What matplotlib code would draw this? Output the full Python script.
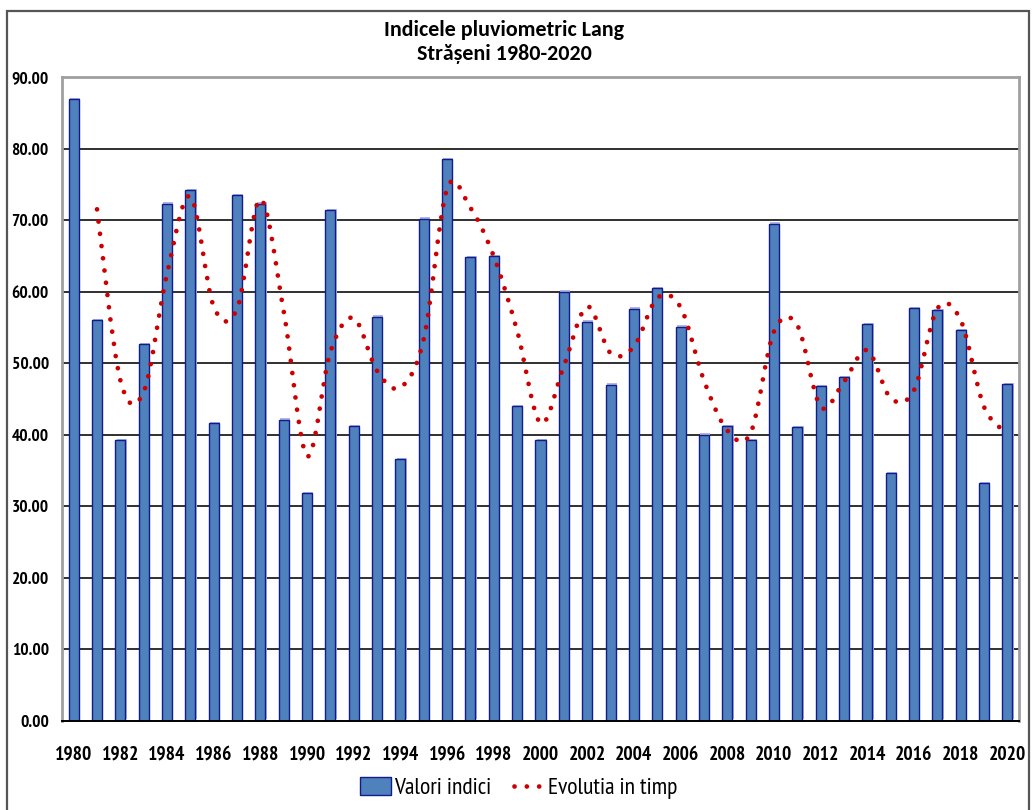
import matplotlib
matplotlib.use("Agg")
import matplotlib.pyplot as plt
import matplotlib.patheffects as pe
from matplotlib.path import Path
from matplotlib.patches import PathPatch, Rectangle, Patch
from matplotlib.lines import Line2D
import numpy as np

# Lang rainfall index, Strășeni station
years = list(range(1980, 2021))
lang_index = [86.9, 56.0, 39.2, 52.7, 72.3, 74.2, 41.6, 73.5, 72.3, 42.1,
              31.8, 71.4, 41.2, 56.5, 36.6, 70.2, 78.5, 64.8, 65.0, 44.0,
              39.2, 60.0, 55.8, 47.0, 57.6, 60.5, 55.1, 40.0, 41.2, 39.2,
              69.5, 41.0, 46.8, 48.0, 55.5, 34.6, 57.7, 57.4, 54.6, 33.2,
              47.1]
# two-year moving trend (starts in 1981)
trend = [None, 71.5, 47.6, 46.0, 62.5, 73.3, 57.9, 57.6, 72.9, 57.2,
         37.0, 51.6, 56.3, 48.9, 46.6, 53.4, 74.4, 71.7, 64.9, 54.5,
         41.6, 49.6, 57.9, 51.4, 52.3, 59.1, 57.8, 47.6, 40.6, 40.2,
         54.4, 55.3, 43.9, 47.4, 51.8, 45.1, 46.2, 57.6, 56.0, 43.9,
         40.2]
y_ticks = [0, 10, 20, 30, 40, 50, 60, 70, 80, 90]

title = "Indicele pluviometric Lang\nStrășeni 1980-2020"
bar_label = "Valori indici"
trend_label = "Evolutia in timp"

NARROW = ["PT Sans Narrow", "DejaVu Sans"]
TITLE_FONT = ["Carlito", "DejaVu Sans"]
BAR_FACE = "#4F81BD"
BAR_EDGE = "#101C8C"
TREND_COLOR = "#CC0000"

W, H = 1032, 810
fig = plt.figure(figsize=(W / 100, H / 100), dpi=100)
ax = fig.add_axes([62 / W, 1 - 720.7 / H, (1019 - 62) / W, (720.7 - 77) / H])

x = np.arange(len(years))
bars = ax.bar(x, lang_index, width=0.43, color=BAR_FACE, edgecolor=BAR_EDGE,
              linewidth=1.0, zorder=3)
for b in bars:
    b.set_path_effects([pe.SimplePatchShadow(offset=(0.9, 0.9),
                                             shadow_rgbFace="#b4b4e6",
                                             alpha=1.0),
                        pe.Normal()])

# smoothed trend curve (Catmull-Rom segments as cubic Bezier)
pts = [(xi, v) for xi, v in zip(x, trend) if v is not None]
P = np.array(pts, dtype=float)
verts = [tuple(P[0])]
codes = [Path.MOVETO]
n = len(P)
for i in range(n - 1):
    p0 = P[i - 1] if i > 0 else P[i]
    p1 = P[i]
    p2 = P[i + 1]
    p3 = P[i + 2] if i + 2 < n else P[i + 1]
    c1 = p1 + (p2 - p0) / 6.0
    c2 = p2 - (p3 - p1) / 6.0
    verts += [tuple(c1), tuple(c2), tuple(p2)]
    codes += [Path.CURVE4] * 3
DOTS = (0, (0.01, 2.6))
LW = 3.4
curve = PathPatch(Path(verts, codes), fill=False, edgecolor=TREND_COLOR,
                  linewidth=LW, linestyle=DOTS, capstyle="round", zorder=4)
ax.add_patch(curve)

ax.set_xlim(-0.5, len(years) - 0.5)
ax.set_ylim(0, 90)
ax.set_yticks(y_ticks)
ax.set_yticklabels([f"{t:.2f}" for t in y_ticks], fontfamily=NARROW,
                   fontweight="bold", fontsize=12.5)
ax.set_xticks(x[::2])
ax.set_xticklabels([str(y) for y in years[::2]], fontfamily=NARROW,
                   fontweight="bold", fontsize=14)
ax.tick_params(axis="y", length=0, pad=9.5)
ax.tick_params(axis="x", length=0, pad=18)

for t in y_ticks[1:-1]:
    ax.axhline(t, color="#303030", linewidth=1.4, zorder=1)

for side in ("top", "left", "right"):
    ax.spines[side].set_color("#a0a0a0")
    ax.spines[side].set_linewidth(2.0)
ax.spines["bottom"].set_color("#000000")
ax.spines["bottom"].set_linewidth(1.4)
ax.spines["bottom"].set_zorder(5)

fig.text(504 / W, 1 - 42 / H, title, ha="center", va="center",
         fontfamily=TITLE_FONT, fontweight="bold", fontsize=15.8,
         linespacing=1.3)

handles = [Patch(facecolor=BAR_FACE, edgecolor=BAR_EDGE, linewidth=1.0),
           Line2D([], [], color=TREND_COLOR, linewidth=LW, linestyle=DOTS,
                  dash_capstyle="round")]
fig.legend(handles, [bar_label, trend_label], loc="center",
           bbox_to_anchor=(519 / W, 1 - 788 / H), ncol=2, frameon=False,
           prop={"family": NARROW, "size": 17},
           handlelength=1.3, handleheight=0.8, handletextpad=0.15,
           columnspacing=0.95, borderpad=0)

# chart frame
fig.patches.append(Rectangle((7 / W, -0.01), (1029 - 7) / W, 1 - 10.7 / H + 0.01,
                             transform=fig.transFigure, fill=False,
                             edgecolor="#555555", linewidth=1.6))

fig.savefig("out.png", dpi=100)
